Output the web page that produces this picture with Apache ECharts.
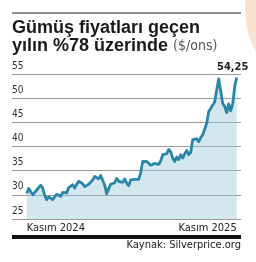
<!DOCTYPE html>
<html>
<head>
<meta charset="utf-8">
<script src="https://cdn.jsdelivr.net/npm/echarts@6/dist/echarts.min.js"></script>
<style>
html,body{margin:0;padding:0;background:#fff;}
#c{width:256px;height:262px;}
</style>
</head>
<body>
<div id="c"></div>
<script>
// ---- data ----
const tickLabels = ['Kasım 2024', 'Kasım 2025'];
const prices = [
  30.3, 31.3, 30.9, 30.0, 30.5, 31.0, 31.5, 32.0, 31.4, 29.9,
  29.0, 29.6, 29.3, 29.0, 29.6, 30.1, 30.5, 29.7, 30.5, 30.7,
  30.4, 31.5, 31.9, 32.1, 31.4, 32.2, 32.8, 33.1, 32.3, 31.7,
  31.5, 32.2, 32.6, 33.1, 33.8, 33.7, 33.3, 34.0, 34.1, 32.0,
  30.2, 31.3, 32.2, 32.4, 32.5, 33.4, 32.8, 32.4, 32.6, 33.3,
  32.4, 31.9, 33.1, 33.4, 33.2, 32.8, 33.2, 34.6, 36.9, 36.7,
  36.9, 36.7, 36.1, 35.9, 36.5, 36.2, 36.3, 37.0, 38.3, 37.9,
  38.5, 39.4, 38.9, 37.6, 36.9, 37.8, 37.3, 38.3, 37.6, 38.5,
  39.2, 38.3, 38.8, 41.4, 41.1, 41.6, 41.0, 41.8, 42.4, 43.6,
  44.8, 47.2, 47.0, 48.6, 49.2, 51.7, 54.0, 51.5, 48.9, 48.3,
  47.0, 48.8, 47.4, 48.8, 52.5, 54.25
];
const categories = prices.map((_, i) => 'p' + i);
const yTicks = [25, 30, 35, 40, 45, 50, 55];
const titleLine1 = 'Gümüş fiyatları geçen';
const titleLine2 = 'yılın %78 üzerinde';
const unitText = '($/ons)';
const sourceText = 'Kaynak: Silverprice.org';

const narrow = "'Liberation Sans Narrow', 'DejaVu Sans Condensed', 'Roboto Condensed', sans-serif";
const last = prices.length - 1;

const chart = echarts.init(document.getElementById('c'), null, {renderer: 'canvas'});
chart.setOption({
  animation: false,
  backgroundColor: '#fff',
  title: {
    left: 12, top: 19,
    padding: 0,
    text: '{b|' + titleLine1 + '}\n{b|' + titleLine2 + '} {u|' + unitText + '}',
    textStyle: {
      rich: {
        b: {fontFamily: "'Liberation Sans', Arial, sans-serif", fontWeight: 'bold', fontSize: 18, lineHeight: 18, color: '#1a1a1a'},
        u: {fontFamily: narrow, fontWeight: 'normal', fontSize: 14, lineHeight: 18, color: '#555'}
      }
    }
  },
  grid: [
    {left: 26.7, right: 19.3, top: 74, bottom: 43},
    {left: 12, right: 15, top: 74, bottom: 43}
  ],
  xAxis: [
    {
      gridIndex: 0, type: 'category', data: categories, boundaryGap: false,
      axisLine: {show: false}, axisTick: {show: false}, splitLine: {show: false},
      axisLabel: {
        interval: 0, margin: 4,
        alignMinLabel: 'left', alignMaxLabel: 'right',
        fontFamily: narrow, fontSize: 11, color: '#222',
        formatter: (v, i) => i === 0 ? tickLabels[0] : (i === last ? tickLabels[1] : '')
      }
    },
    {gridIndex: 1, type: 'value', min: 0, max: 1, show: false}
  ],
  yAxis: [
    {gridIndex: 0, type: 'value', min: 25, max: 55, show: false},
    {
      gridIndex: 1, type: 'value', min: yTicks[0], max: yTicks[yTicks.length - 1], interval: 5,
      axisLine: {show: false}, axisTick: {show: false},
      splitLine: {show: true, lineStyle: {color: '#9a9a9a', width: 1.2}},
      axisLabel: {
        inside: true, margin: 0, verticalAlign: 'bottom', padding: [0, 0, 3, 0],
        fontFamily: narrow, fontSize: 10, color: '#333'
      }
    }
  ],
  graphic: [
    {type: 'circle', shape: {cx: 330, cy: 10, r: 85}, style: {fill: '#f8e1d0'}, z: -10, silent: true},
    {type: 'line', shape: {x1: 12, y1: 13, x2: 241, y2: 13}, style: {stroke: '#222', lineWidth: 1}},
    {type: 'rect', shape: {x: 12, y: 235, width: 229, height: 4}, style: {fill: '#111'}},
    {type: 'text', right: 15, top: 240, style: {text: sourceText, fontFamily: narrow, fontSize: 11, fill: '#222'}}
  ],
  series: [{
    type: 'line', xAxisIndex: 0, yAxisIndex: 0,
    data: prices,
    symbol: 'none',
    lineStyle: {color: '#2a86a8', width: 2.8, join: 'round'},
    areaStyle: {color: '#9cc9da', opacity: 0.45, origin: 'start'},
    markPoint: {
      symbol: 'circle', symbolSize: 1,
      itemStyle: {color: 'rgba(0,0,0,0)'},
      data: [{
        coord: [last, prices[last]], value: prices[last],
        label: {
          show: true, position: 'top', distance: 4, offset: [-4, 0],
          fontFamily: narrow, fontWeight: 'bold', fontSize: 11, color: '#222',
          formatter: p => String(p.value).replace('.', ',')
        }
      }]
    }
  }]
});
</script>
</body>
</html>
